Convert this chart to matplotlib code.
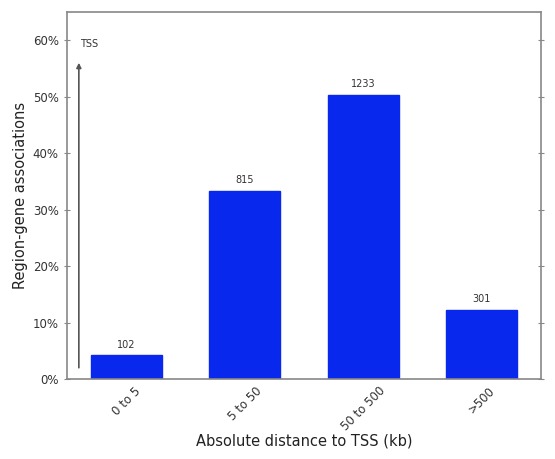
import matplotlib
matplotlib.use("Agg")
import matplotlib.pyplot as plt
from matplotlib.ticker import FuncFormatter

categories = ["0 to 5", "5 to 50", "50 to 500", ">500"]
counts = [102, 815, 1233, 301]
percents = [4.2, 33.3, 50.3, 12.3]

fig = plt.figure(figsize=(5.55, 4.59), dpi=100)
ax = fig.add_axes([67 / 555, 80 / 459, 474 / 555, 367 / 459])

x = list(range(len(categories)))
ax.bar(x, percents, width=0.6, color="#0828ee", edgecolor="#0828ee")

for xi, p, c in zip(x, percents, counts):
    ax.text(xi, p + 1.0, str(c), ha="center", va="bottom", fontsize=7, color="#333333")

ax.set_xlim(-0.5, 3.5)
ax.set_ylim(0, 65)
ax.set_yticks([0, 10, 20, 30, 40, 50, 60])
ax.yaxis.set_major_formatter(FuncFormatter(lambda v, _: "%d%%" % v))
ax.set_xticks(x)
ax.set_xticklabels(categories, rotation=45, ha="center", fontsize=8.5)

# TSS arrow
ax.annotate("", xy=(-0.4, 56.5), xytext=(-0.4, 1.5),
            arrowprops=dict(arrowstyle="-|>", color="#555555", lw=1.2, mutation_scale=7))
ax.text(-0.39, 58.5, "TSS", fontsize=7, color="#333333", ha="left", va="bottom")

for s in ax.spines.values():
    s.set_color("#888888")
    s.set_linewidth(1.2)
ax.tick_params(axis="both", labelsize=8.5, colors="#888888", labelcolor="#333333",
               direction="inout", length=5)
ax.tick_params(axis="y", right=True)
ax.tick_params(axis="x", length=0, pad=4)

ax.set_xlabel("Absolute distance to TSS (kb)", fontsize=10.5, color="#222222", labelpad=0)
ax.set_ylabel("Region-gene associations", fontsize=10.5, color="#222222", labelpad=3)

fig.savefig("out.png", dpi=100)
